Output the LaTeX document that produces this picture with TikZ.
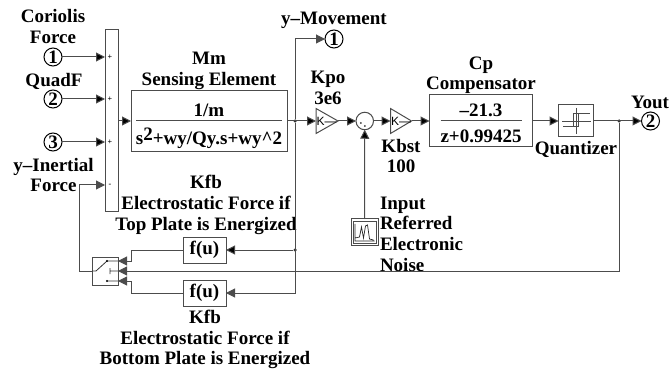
\documentclass[tikz,border=0pt]{standalone}
\usepackage{fontspec}
\setmainfont{Liberation Serif}
\setsansfont{Liberation Sans}
\usetikzlibrary{arrows.meta, positioning}

\tikzset{
  blockbox/.style={draw=black!70, line width=1pt, inner sep=0pt, outer sep=0pt},
  gainblock/.style={inner sep=0pt, outer sep=0pt, minimum height=25pt},
  portnum/.style={circle, draw=black, line width=1pt, inner sep=0pt, outer sep=0pt, minimum size=18pt, font=\fontsize{19}{19}\selectfont\bfseries},
  sometext/.style={inner sep=0pt, outer sep=0pt, align=center, font=\fontsize{19}{20.7}\selectfont\bfseries},
  wire/.style={draw=black!70, line width=1pt},
  sig/.style={wire, -{Triangle[length=9pt,width=9pt]}},
  jdot/.style={circle, fill=black!80, inner sep=0pt, outer sep=0pt, minimum size=3.5pt},
  signmark/.style={inner sep=0pt, font=\fontsize{8}{8}\selectfont\bfseries},
  kmark/.style={inner sep=0pt, font=\fontsize{12}{12}\selectfont\sffamily, anchor=west}
}

\begin{document}
\begin{tikzpicture}[x=1pt, y=1pt]
  \useasboundingbox (0,0) rectangle (671,-371);

  % forward path
  \node (sumbar) [blockbox, minimum width=13pt, minimum height=182pt] at (111.5,-121) {};
  \node (mm) [blockbox, minimum width=156pt, minimum height=61pt, right=13pt of sumbar] {};
  \node (kpo) [gainblock, minimum width=22pt, right=29pt of mm] {};
  \node (sumc) [circle, draw=black!70, line width=1pt, inner sep=0pt, outer sep=0pt, minimum size=17.5pt, right=18pt of kpo] {};
  \node (kbst) [gainblock, minimum width=21pt, right=17pt of sumc] {};
  \node (cp) [blockbox, minimum width=103pt, minimum height=52pt, right=18pt of kbst] {};
  \node (quant) [blockbox, minimum width=35pt, minimum height=32pt, right=26pt of cp] {};
  \node (yout) [portnum, right=48pt of quant] {2};
  \draw [wire, line join=miter] (kpo.north west) -- (kpo.east) -- (kpo.south west) -- cycle;
  \draw [wire, line join=miter] (kbst.north west) -- (kbst.east) -- (kbst.south west) -- cycle;

  % ports
  \node (coriolis) [portnum] at (53,-57) {1};
  \node (quadf) [portnum] at (53,-99) {2};
  \node (third) [portnum] at (53,-142) {3};
  \node (movement) [portnum] at (334,-39) {1};

  % feedback
  \node (ftop) [blockbox, minimum width=43pt, minimum height=26pt, sometext] at (204.5,-250) {f(u)};
  \node (fbot) [blockbox, minimum width=43pt, minimum height=26pt, sometext] at (204.5,-293) {f(u)};
  \node (swblk) [blockbox, minimum width=26pt, minimum height=28pt] at (105,-271) {};
  \node (noise) [blockbox, minimum width=27pt, minimum height=26pt] at (364.5,-232) {};

  % fractions
  \node (mmnum) [sometext, above=4pt of mm.center] {1/m};
  \node (mmden) [sometext, below=7pt of mm.center] {s\raisebox{4pt}{2}+wy/Qy.s+wy\^{}2};
  \node (cpnum) [sometext, above=4pt of cp.center] {--21.3};
  \node (cpden) [sometext, below=9pt of cp.center] {z+0.99425};
  \draw [wire] ([xshift=5pt]mm.west) -- ([xshift=-5pt]mm.east);
  \draw [wire] ([xshift=11pt]cp.west) -- ([xshift=-11pt]cp.east);

  % labels
  \node (lcoriolis) [sometext] at (53,-26.5) {Coriolis\\Force};
  \node (lquadf) [sometext] at (54,-81) {QuadF};
  \node (linertial) [sometext] at (53.5,-175) {y--Inertial\\Force};
  \node (lmm) [sometext, above=1pt of mm] {Mm\\Sensing Element};
  \node (lmove) [sometext] at (334,-20) {y--Movement};
  \node (lkpo) [sometext] at (328,-88) {Kpo\\3e6};
  \node (lkbst) [sometext] at (401,-156) {Kbst\\100};
  \node (lcp) [sometext, above=1pt of cp] {Cp\\Compensator};
  \node (lquant) [sometext] at (576,-149) {Quantizer};
  \node (lyout) [sometext] at (650,-102) {Yout};
  \node (lnoise) [sometext, align=left, anchor=west] at (380,-234) {Input\\Referred\\Electronic\\Noise};
  \node (lftop) [sometext] at (206,-205) {Kfb\\Electrostatic Force if\\Top Plate is Energized};
  \node (lfbot) [sometext] at (205,-339.5) {Kfb\\Electrostatic Force if\\Bottom Plate is Energized};

  % signs on the sum bar
  \node (pa) [signmark] at (110,-57) {+};
  \node (pb) [signmark] at (110,-99) {+};
  \node (pc) [signmark] at (110,-142) {+};
  \node (pd) [signmark] at (110,-185) {-};

  % junctions and free ends
  \node (jmm) [jdot] at (295,-121) {};
  \node (jout) [jdot] at (619,-121) {};
  \node (jtop) [jdot] at (295,-250) {};
  \coordinate (sd) at (105,-185);
  \coordinate (swa) at (118,-261);
  \coordinate (swc) at (118,-281);
  \coordinate (swl) at (79,-271);

  \path [sig]
      (coriolis) edge (coriolis -| sumbar.west)
      (quadf) edge (quadf -| sumbar.west)
      (third) edge (third -| sumbar.west)
      (sumbar) edge (mm)
      (mm) edge (kpo)
      (kpo) edge (sumc)
      (sumc) edge (kbst)
      (kbst) edge (cp)
      (cp) edge (quant)
      (quant) edge (yout)
      (noise) edge (sumc)
      (jtop) edge (ftop)
      ;
  \draw [sig] (jmm) |- (movement);
  \draw [sig] (jmm) |- (fbot);
  \draw [sig] (jout) |- (swblk.east);
  \draw [sig] (ftop) -| ([xshift=13pt]swa) -- (swa);
  \draw [sig] (fbot) -| ([xshift=13pt]swc) -- (swc);
  \draw [sig] (swblk) -- (swl) |- (sd);

  % k marks
  \node (kk) [kmark] at ([xshift=0.5pt]kpo.west) {K---};
  \node (kj) [kmark] at ([xshift=0.5pt]kbst.west) {K---};

  % sum dots
  \fill [black!80, shift={(sumc.center)}] (-4,-2) circle (1pt) (0,-5) circle (1pt);

  % quantizer icon
  \draw [black!70, line width=0.7pt, shift={(quant.center)}]
      (0.5,13) -- (0.5,-13) (-14,0) -- (15,0)
      (-2.5,-5) -- (-2.5,8) -- (14,8)
      (-13,-5) -- (2.5,-5) -- (2.5,8);

  % switch icon
  \draw [black!80, line width=0.8pt, shift={(swblk.center)}]
      (-13,0) -- (-9,0) -- (2,10) -- (13,10)
      (5,3) -- (5,-3) (5,0) -- (13,0)
      (2,-10) -- (13,-10);
  \fill [black, shift={(swblk.center)}] (2,10) circle (1.2pt) (2,-10) circle (1.2pt);

  % scope icon
  \draw [black!70, line width=0.6pt, shift={(noise.center)}]
      (-11.5,-11) rectangle (11.5,11);
  \draw [black!85, line width=0.7pt, shift={(noise.center)}]
      (-9.5,8) -- (-9.5,-9) -- (10,-9)
      (-9.5,-6) -- (-5,-5) -- (-3,5) -- (-1,-6) -- (1,6) -- (3,7) -- (5,-7) -- (9,-8);
\end{tikzpicture}
\end{document}
